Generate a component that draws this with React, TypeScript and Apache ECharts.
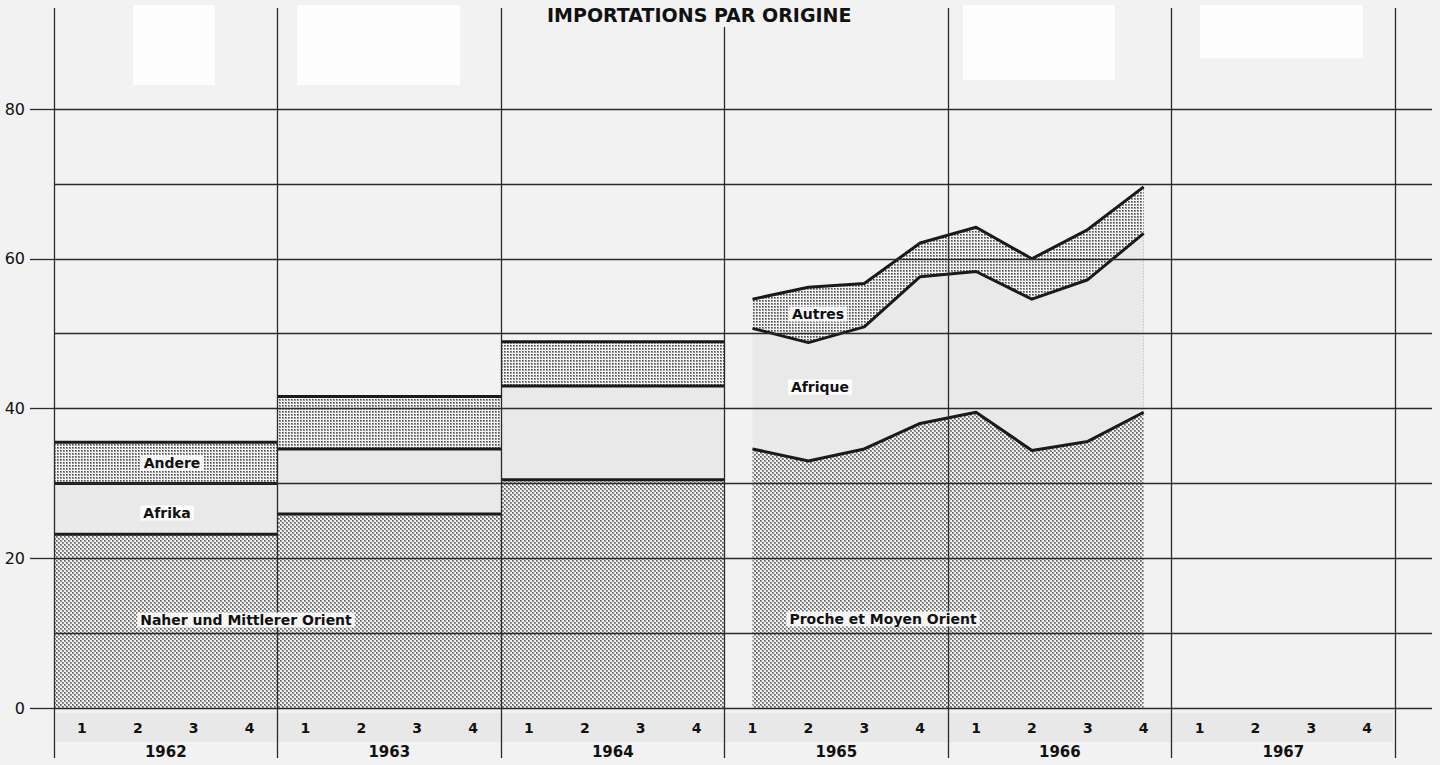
import React, { useEffect, useRef } from "react";
import * as echarts from "echarts";

// ---- DATA ----
const YEARS = ["1962", "1963", "1964", "1965", "1966", "1967"];
const QUARTERS = ["1", "2", "3", "4"];

// Annual values 1962-1964 (German legend)
const annualYears = [1962, 1963, 1964];
const orientAnnual = [23.2, 25.9, 30.5]; // Naher und Mittlerer Orient
const afrikaAnnual = [6.8, 8.7, 12.5]; // Afrika
const andereAnnual = [5.5, 7.0, 5.9]; // Andere

// Quarterly values 1965 Q1 - 1966 Q4 (French legend)
const quarterPeriods = ["1965-1", "1965-2", "1965-3", "1965-4", "1966-1", "1966-2", "1966-3", "1966-4"];
const orientQ = [34.6, 33.0, 34.6, 38.0, 39.5, 34.4, 35.6, 39.5]; // Proche et Moyen Orient
const afriqueQ = [16.1, 15.8, 16.3, 19.6, 18.8, 20.2, 21.6, 23.9]; // Afrique
const autresQ = [3.9, 7.4, 5.8, 4.5, 5.9, 5.4, 6.7, 6.2]; // Autres

const TITLE = "IMPORTATIONS PAR ORIGINE";
const FIRST_YEAR = 1962;
const X_MAX = 24.66;

function cumulate(...arrs: number[][]): number[] {
  return arrs[0].map((_, i) => +arrs.reduce((s, a) => s + a[i], 0).toFixed(2));
}

function stepData(years: number[], vals: number[]) {
  const out: any[] = [];
  vals.forEach((v, i) => {
    const x0 = (years[i] - FIRST_YEAR) * 4;
    if (i > 0) out.push([x0, "-"]);
    out.push([x0, v], [x0 + 4, v]);
  });
  return out;
}

function quarterData(periods: string[], vals: number[]) {
  return periods.map((p, i) => {
    const [y, q] = p.split("-").map((s) => parseInt(s, 10));
    return [(y - FIRST_YEAR) * 4 + q - 0.5, vals[i]];
  });
}

function makePattern(kind: "dense" | "light") {
  const c = document.createElement("canvas");
  const ctx = c.getContext("2d")!;
  if (kind === "dense") {
    c.width = 4;
    c.height = 4;
    ctx.fillStyle = "#f2f2f2";
    ctx.fillRect(0, 0, 4, 4);
    ctx.fillStyle = "#959595";
    ctx.fillRect(0, 0, 2, 2);
    ctx.fillRect(2, 2, 2, 2);
    ctx.fillStyle = "#5c5c5c";
    ctx.fillRect(0, 0, 1, 1);
    ctx.fillRect(2, 2, 1, 1);
  } else {
    c.width = 3;
    c.height = 3;
    ctx.fillStyle = "#f4f4f4";
    ctx.fillRect(0, 0, 3, 3);
    ctx.fillStyle = "#959595";
    ctx.fillRect(0, 0, 2, 2);
    ctx.fillStyle = "#4a4a4a";
    ctx.fillRect(0, 0, 1, 1);
  }
  return { image: c, repeat: "repeat" } as any;
}

const LINE = "#1a1a1a";
const GRID_LINE = "#2a2a2a";
const BG = "#f2f2f2";
const LIGHT_FILL = "#e9e9e9";

export default function App() {
  const ref = useRef<HTMLDivElement>(null);

  useEffect(() => {
    document.body.style.margin = "0";
    const chart = echarts.init(ref.current!, null, { renderer: "svg" });

    const dense = makePattern("dense");
    const light = makePattern("light");

    const annualTop = cumulate(orientAnnual, afrikaAnnual, andereAnnual);
    const annualMid = cumulate(orientAnnual, afrikaAnnual);
    const qTop = cumulate(orientQ, afriqueQ, autresQ);
    const qMid = cumulate(orientQ, afriqueQ);

    const mk = (name: string, data: any[], fill: any) => ({
      name,
      type: "line",
      xAxisIndex: 0,
      yAxisIndex: 0,
      data,
      showSymbol: false,
      symbol: "none",
      connectNulls: false,
      lineStyle: { color: LINE, width: 3, join: "round" },
      areaStyle: { color: fill, opacity: 1, origin: "start" },
      z: 2,
      silent: true,
    });

    const labelStyle = (text: string, x: number, y: number) => ({
      type: "text",
      x,
      y,
      z: 50,
      style: {
        text,
        font: 'bold 14px "DejaVu Sans"',
        fill: "#111",
        align: "center",
        verticalAlign: "middle",
        backgroundColor: "rgba(255,255,255,0.88)",
        padding: [1, 3, 0, 3],
      },
    });

    const bgRect = (x: number, y: number, w: number, h: number, fill: string) => ({
      type: "rect",
      shape: { x, y, width: w, height: h },
      style: { fill },
      z: 0,
      silent: true,
    });

    chart.setOption({
      animation: false,
      backgroundColor: BG,
      title: {
        text: TITLE,
        left: 542,
        top: 2,
        padding: [3, 5],
        backgroundColor: BG,
        z: 30,
        textStyle: { fontFamily: "DejaVu Sans", fontWeight: "bold", fontSize: 19, color: "#111" },
      },
      grid: [
        { left: 54, right: 8, top: 109, bottom: 57 },
        { left: 54, right: 8, top: 8, bottom: 7 },
      ],
      xAxis: [
        {
          gridIndex: 0,
          type: "value",
          min: 0,
          max: X_MAX,
          interval: 0.5,
          position: "bottom",
          axisLine: { show: false },
          axisTick: { show: false },
          splitLine: { show: false },
          axisLabel: {
            margin: 13,
            fontFamily: "DejaVu Sans",
            fontWeight: "bold",
            fontSize: 14,
            color: "#111",
            showMaxLabel: false,
            formatter: (v: number) => {
              const h = Math.round(v * 2);
              if (h % 2 === 1 && v < 24) return QUARTERS[Math.floor(v) % 4];
              return "";
            },
          },
        },
        {
          gridIndex: 0,
          type: "value",
          min: 0,
          max: X_MAX,
          interval: 2,
          position: "bottom",
          axisLine: { show: false },
          axisTick: { show: false },
          splitLine: { show: false },
          axisLabel: {
            margin: 36,
            fontFamily: "DejaVu Sans",
            fontWeight: "bold",
            fontSize: 15,
            color: "#111",
            showMaxLabel: false,
            formatter: (v: number) => {
              const r = Math.round(v);
              if (r % 4 === 2 && v < 24) return YEARS[(r - 2) / 4];
              return "";
            },
          },
        },
        {
          gridIndex: 1,
          type: "value",
          min: 0,
          max: X_MAX,
          interval: 4,
          z: 10,
          axisLine: { show: false },
          axisTick: { show: false },
          axisLabel: { show: false },
          splitLine: { show: true, showMaxLine: false, lineStyle: { color: GRID_LINE, width: 1.3 } },
        },
      ],
      yAxis: [
        {
          gridIndex: 0,
          type: "value",
          min: 0,
          max: 80,
          interval: 10,
          z: 10,
          axisLine: { show: false },
          axisTick: { show: false },
          axisLabel: { show: false },
          splitLine: { show: true, lineStyle: { color: GRID_LINE, width: 1.3 } },
        },
        {
          gridIndex: 0,
          type: "value",
          min: 0,
          max: 80,
          interval: 20,
          z: 10,
          position: "left",
          axisLine: { show: false },
          axisTick: { show: true, length: 24, lineStyle: { color: GRID_LINE, width: 1.3 } },
          splitLine: { show: false },
          axisLabel: { margin: 29, fontFamily: "DejaVu Sans", fontSize: 16, color: "#111" },
        },
        {
          gridIndex: 1,
          type: "value",
          min: 0,
          max: 1,
          show: false,
          splitLine: { show: false },
        },
      ],
      series: [
        mk("Andere", stepData(annualYears, annualTop), light),
        mk("Afrika", stepData(annualYears, annualMid), LIGHT_FILL),
        mk("Naher und Mittlerer Orient", stepData(annualYears, orientAnnual), dense),
        mk("Autres", quarterData(quarterPeriods, qTop), light),
        mk("Afrique", quarterData(quarterPeriods, qMid), LIGHT_FILL),
        mk("Proche et Moyen Orient", quarterData(quarterPeriods, orientQ), dense),
      ],
      graphic: [
        bgRect(133, 5, 82, 80, "#fdfdfd"),
        bgRect(297, 5, 163, 80, "#fdfdfd"),
        bgRect(963, 5, 152, 75, "#fdfdfd"),
        bgRect(1200, 5, 163, 53, "#fdfdfd"),
        bgRect(56, 713, 1337, 29, "#e8e8e8"),
        labelStyle("Andere", 172, 463),
        labelStyle("Afrika", 167, 513),
        labelStyle("Naher und Mittlerer Orient", 246, 620),
        labelStyle("Autres", 818, 314),
        labelStyle("Afrique", 820, 387),
        labelStyle("Proche et Moyen Orient", 883, 619),
      ],
    });

    return () => chart.dispose();
  }, []);

  return <div ref={ref} style={{ width: 1440, height: 765, background: BG }} />;
}
